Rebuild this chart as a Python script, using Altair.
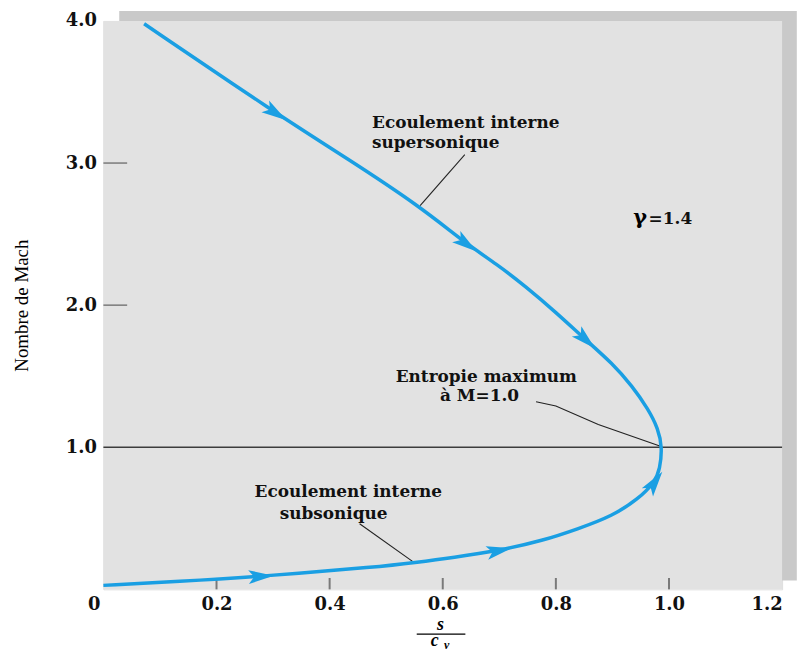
import altair as alt
import pandas as pd

# ---- data ----
curve_s = [0.072, 0.305, 0.432, 0.558, 0.642, 0.695, 0.747, 0.800, 0.853, 0.900, 0.935, 0.963, 0.981, 0.988,
           0.984, 0.975, 0.946, 0.900, 0.840, 0.777, 0.700, 0.619, 0.549, 0.490, 0.279, 0.133, 0.0]
curve_m = [3.98, 3.35, 3.03, 2.70, 2.43, 2.29, 2.13, 1.95, 1.755, 1.59, 1.43, 1.27, 1.13, 1.0,
           0.846, 0.755, 0.636, 0.517, 0.427, 0.343, 0.273, 0.224, 0.188, 0.160, 0.091, 0.056, 0.028]

arrow_s = [0.305, 0.642, 0.853, 0.279, 0.700, 0.975]
arrow_m = [3.35, 2.43, 1.755, 0.091, 0.273, 0.755]
arrow_angle = [33, 36, 43, 357, 349, 306]

leader_group = ["sup", "sup", "ent", "ent", "ent", "ent", "sub", "sub"]
leader_s = [0.639, 0.560, 0.765, 0.800, 0.875, 0.985, 0.453, 0.549]
leader_m = [3.06, 2.70, 1.32, 1.29, 1.16, 1.007, 0.462, 0.190]

labels_text = ["Ecoulement interne", "supersonique", "Entropie maximum", "à M=1.0",
               "Ecoulement interne", "subsonique"]
labels_s = [0.475, 0.475, 0.677, 0.665, 0.433, 0.407]
labels_m = [3.245, 3.105, 1.462, 1.322, 0.650, 0.497]

x_ticks = [0.2, 0.4, 0.6, 0.8, 1.0]
y_ticks = [2.0, 3.0]
x_labels = [0, 0.2, 0.4, 0.6, 0.8, 1.0, 1.2]
y_labels = [1.0, 2.0, 3.0, 4.0]

SERIF = "DejaVu Serif"
BLUE = "#1a9fe3"
ARROW = "M-1,-0.55L1,0L-1,0.55L-0.55,0Z"

xs = alt.Scale(domain=[0, 1.2], nice=False, zero=False)
ys = alt.Scale(domain=[0, 4], nice=False, zero=False)
xaxis = alt.Axis(values=x_labels, labelExpr="datum.value == 0 ? '0' : format(datum.value, '.1f')",
                 labelOffset={"condition": {"test": "datum.value == 0", "value": -16}, "value": 0},
                 domain=False, ticks=False, grid=False, labelPadding=6, title=None,
                 labelFont=SERIF, labelFontWeight="bold", labelFontSize=18, labelColor="#111111")
yaxis = alt.Axis(values=y_labels, format=".1f", domain=False, ticks=False, grid=False,
                 labelPadding=7, title="Nombre de Mach", titleFont="Liberation Serif",
                 titleFontWeight="normal", titleFontSize=19, titleColor="black",
                 titleX=-82, titleY=286, titleAngle=270, titleAlign="center", titleBaseline="middle",
                 labelFont=SERIF, labelFontWeight="bold", labelFontSize=18, labelColor="#111111")


def X(f, **kw):
    return alt.X(f, type="quantitative", scale=xs, axis=xaxis, **kw)


def Y(f, **kw):
    return alt.Y(f, type="quantitative", scale=ys, axis=yaxis, **kw)


one = pd.DataFrame({"a": [0]})

shadow = alt.Chart(one).mark_rect(color="#c9c9c9").encode(
    x=X("x:Q"), x2=alt.datum(1.226), y=Y("y:Q"), y2=alt.datum(4.07)
).transform_calculate(x="0.028", y="0.063")

panel = alt.Chart(one).mark_rect(color="#e2e2e2").encode(
    x=X("x:Q"), x2=alt.datum(1.2), y=Y("y:Q"), y2=alt.datum(4.0)
).transform_calculate(x="0", y="0")

xt = alt.Chart(pd.DataFrame({"s": x_ticks})).mark_rule(color="#7a7a7a", strokeWidth=2).encode(
    x=X("s"), y=Y("y:Q"), y2=alt.datum(0.08)
).transform_calculate(y="0")

yt = alt.Chart(pd.DataFrame({"m": y_ticks})).mark_rule(color="#7a7a7a", strokeWidth=1.5).encode(
    y=Y("m"), x=X("x:Q"), x2=alt.datum(0.042)
).transform_calculate(x="0")

m1 = alt.Chart(pd.DataFrame({"m": [1.0]})).mark_rule(color="#3c3c3c", strokeWidth=1.5).encode(
    y=Y("m"), x=X("x:Q"), x2=alt.datum(1.2)
).transform_calculate(x="0")

leaders = alt.Chart(pd.DataFrame({"g": leader_group, "s": leader_s, "m": leader_m,
                                  "i": list(range(len(leader_s)))})).mark_line(
    color="#222222", strokeWidth=1.1).encode(
    x=X("s"), y=Y("m"), detail="g:N", order="i:Q")

curve = alt.Chart(pd.DataFrame({"s": curve_s, "m": curve_m, "i": list(range(len(curve_s)))})).mark_line(
    color=BLUE, strokeWidth=3.5, interpolate="basis").encode(
    x=X("s"), y=Y("m"), order="i:Q")

arrows = alt.Chart(pd.DataFrame({"s": arrow_s, "m": arrow_m, "a": arrow_angle})).mark_point(
    shape=ARROW, filled=True, color=BLUE, opacity=1, size=650, strokeWidth=0).encode(
    x=X("s"), y=Y("m"), angle=alt.Angle("a:Q", scale=None))

texts_left = alt.Chart(pd.DataFrame({"t": labels_text[:2], "s": labels_s[:2], "m": labels_m[:2]})).mark_text(
    font=SERIF, fontWeight="bold", fontSize=17, baseline="alphabetic", align="left", color="#111111").encode(
    x=X("s"), y=Y("m"), text="t:N")
texts_center = alt.Chart(pd.DataFrame({"t": labels_text[2:], "s": labels_s[2:], "m": labels_m[2:]})).mark_text(
    font=SERIF, fontWeight="bold", fontSize=17, baseline="alphabetic", align="center", color="#111111").encode(
    x=X("s"), y=Y("m"), text="t:N")

gamma = alt.Chart(pd.DataFrame({"t": ["γ"], "s": [0.937], "m": [2.573]})).mark_text(
    font=SERIF, fontWeight="bold", fontSize=21, baseline="alphabetic", align="left", color="black").encode(
    x=X("s"), y=Y("m"), text="t:N")
gamma_val = alt.Chart(pd.DataFrame({"t": ["=1.4"], "s": [0.964], "m": [2.573]})).mark_text(
    font=SERIF, fontWeight="bold", fontSize=17, baseline="alphabetic", align="left", color="#111111").encode(
    x=X("s"), y=Y("m"), text="t:N")

# x title as a fraction s / c_v
frac_text = alt.Chart(pd.DataFrame({"t": ["s", "c", "v"], "s": [0.596, 0.586, 0.607],
                                    "m": [-0.287, -0.398, -0.418], "fs": [18, 18, 12]})).mark_text(
    font="Liberation Serif", fontStyle="italic", fontWeight="bold", baseline="alphabetic",
    align="center", color="black").encode(
    x=X("s"), y=Y("m"), text="t:N", size=alt.Size("fs:Q", scale=None, legend=None))
frac_bar = alt.Chart(pd.DataFrame({"s": [0.554], "m": [-0.315]})).mark_rule(color="black", strokeWidth=1.3).encode(
    x=X("s"), x2=alt.datum(0.640), y=Y("m"))

chart = alt.layer(shadow, panel, xt, yt, m1, leaders, curve, arrows, texts_left, texts_center,
                  gamma, gamma_val, frac_text, frac_bar).properties(
    width=683, height=572, autosize=alt.AutoSizeParams(type="none"),
    padding={"left": 96, "top": 11, "right": 16, "bottom": 60}
).configure_view(stroke=None, fill=None).configure(background="white")

chart.save("out.html", embed_options={"renderer": "svg", "actions": False})
